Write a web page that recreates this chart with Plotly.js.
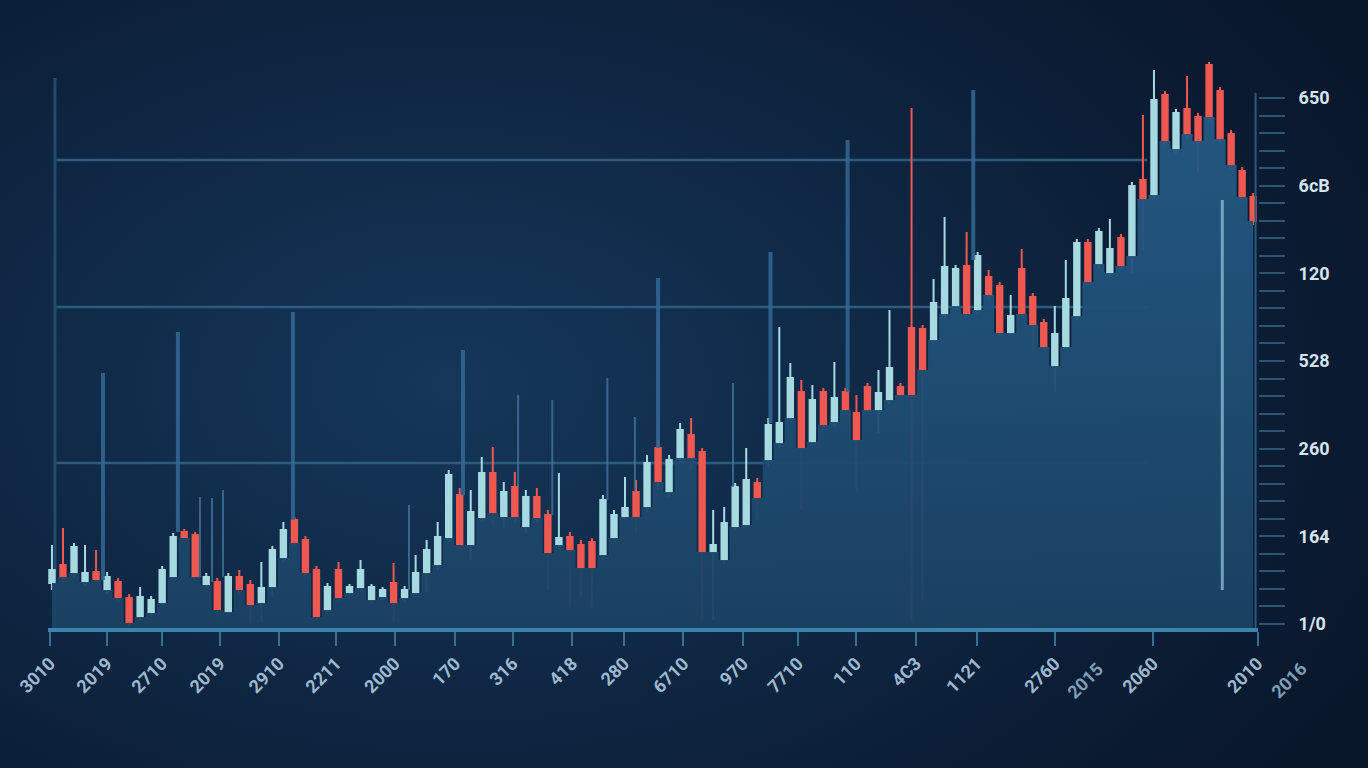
<!DOCTYPE html>
<html><head><meta charset="utf-8">
<script src="https://cdn.plot.ly/plotly-3.0.1.min.js"></script>
<style>
html,body{margin:0;padding:0;width:1368px;height:768px;overflow:hidden;
background: radial-gradient(ellipse 75% 85% at 33% 50%, #15375a 0%, #102a48 38%, #0c1f38 70%, #09172b 100%);}
#chart{width:1368px;height:768px;}
</style></head><body><div id="chart"></div>
<script>
// ---- data (y in chart units, x = candle number) ----
const candleX = [0,1,2,3,4,5,6,7,8,9,10,11,12,13,14,15,16,17,18,19,20,21,22,23,24,25,26,27,28,29,
 30,31,32,33,34,35,36,37,38,39,40,41,42,43,44,45,46,47,48,49,50,51,52,53,54,55,56,57,58,59,
 60,61,62,63,64,65,66,67,68,69,70,71,72,73,74,75,76,77,78,79,80,81,82,83,84,85,86,87,88,89,
 90,91,92,93,94,95,96,97,98,99,100,101,102,103,104,105,106,107,108,109];
const openV = [45,63,55,46,56,38,46,30,11,15, 25,51,96,93,43,46,16,51,43,25,
 41,70,108,88,58,18,58,35,40,28, 31,45,30,35,55,63,90,133,83,110,
 155,111,141,101,131,113,83,91,83,86, 73,90,111,136,121,180,136,170,193,176,
 76,68,101,103,145,168,185,210,236,186, 236,206,236,215,241,218,228,241,300,299,
 288,314,322,362,318,351,342,295,359,331, 305,262,281,312,385,364,355,390,372,448,
 433,533,479,519,511,563,537,494,457,431];
const highV = [83,100,85,83,78,56,50,34,41,32, 62,95,99,96,55,50,55,58,48,66,
 82,106,111,92,62,45,66,44,68,44, 41,65,42,73,88,106,158,140,138,171,
 181,146,156,138,140,118,155,96,88,90, 133,118,151,148,173,188,173,205,210,180,
 118,121,145,180,150,210,301,265,248,243, 240,266,240,233,245,258,318,245,520,303,
 349,411,363,396,376,358,346,333,379,335, 309,322,368,389,389,400,409,394,446,513,
 558,537,519,552,515,566,541,498,461,435];
const lowV = [38,46,50,42,43,34,26,2,8,11, 22,48,88,48,40,11,13,34,5,5,
 31,66,82,51,8,15,26,32,36,24, 28,6,26,31,36,58,86,78,68,106,
 102,100,106,95,106,38,79,21,31,21, 68,86,108,95,116,138,131,166,158,8,
 8,64,98,100,108,161,181,206,118,182, 198,202,214,138,214,195,224,230,6,28,
 284,310,318,310,314,329,291,292,310,277, 277,236,278,308,342,360,351,358,355,378,
 429,483,475,490,455,507,485,459,427,403];
const closeV = [58,51,81,55,48,51,30,5,31,28, 58,91,90,51,51,18,51,38,23,40,
 78,98,85,55,11,41,30,41,58,41, 38,25,38,55,78,91,153,83,116,155,
 115,136,111,131,110,75,90,78,60,60, 128,113,120,111,165,146,168,198,170,76,
 83,105,141,148,130,203,205,250,180,228, 203,230,218,188,218,235,260,233,233,258,
 325,361,359,314,372,333,295,312,314,303, 281,294,329,385,346,396,379,362,442,429,
 528,487,515,494,487,511,489,463,431,407];

// tall thin spike lines
const spikeThickX = [4.63, 11.43, 21.87, 37.3, 55.0, 65.2, 72.2, 83.6];
const spikeThickTop = [255, 296, 316, 278, 350, 376, 488, 538];
const spikeThickBottom = [48, 96, 108, 133, 180, 205, 236, 368];
const spikeThinX = [13.43, 14.52, 15.52, 32.4, 42.3, 45.4, 50.4, 52.9, 61.8];
const spikeThinTop = [131, 130, 138, 123, 233, 228, 250, 211, 245];
const spikeThinBottom = [51, 46, 51, 38, 141, 113, 128, 136, 141];
const spikeLightX = [106.2];
const spikeLightTop = [428];
const spikeLightBottom = [38];

// horizontal reference lines
const gridLevels = [468, 321, 165];

// axis ticks
const xTickPos = [-0.18, 4.99, 9.98, 15.25, 20.6, 25.77, 31.1, 36.6, 41.8, 47.2, 51.9, 57.3, 62.7, 67.7, 72.96, 78.4, 83.9, 91.0, 99.9, 109.4];
const xTickText = ["3010","2019","2710","2019","2910","2211","2000","170","316","418","280","6710","970","7710","110","4C3","1121","2760","2060","2010"];
const xExtraPos = [0.857, 1.025];   // label centres across the plot width (no tick mark)
const xExtraText = ["2015","2016"];
const yTickPos = [4, 91.7, 179.3, 267, 354.7, 442.3, 530];
const yTickText = ["1/0","164","260","528","120","6cB","650"];

// ---- build ----
const bodyLow = openV.map((o, i) => Math.min(o, closeV[i]));
function segs(xs, tops, bots) {
  const x = [], y = [];
  xs.forEach((v, i) => { x.push(v, v, null); y.push(bots[i], tops[i], null); });
  return {x, y};
}
const sThick = segs(spikeThickX, spikeThickTop, spikeThickBottom);
const sThin = segs(spikeThinX, spikeThinTop, spikeThinBottom);
const sLight = segs(spikeLightX, spikeLightTop, spikeLightBottom);

const minorVals = [];
for (let v = 4 + 17.534; v < 545; v += 17.534) minorVals.push(v);

const traces = [
  {type:'scatter', x:candleX, y:bodyLow, mode:'lines', line:{width:0, shape:'hvh'},
   fill:'tozeroy', fillcolor:'rgba(32,80,118,0.92)',
   fillgradient:{type:'vertical', colorscale:[[0,'rgba(27,66,100,0.95)'],[1,'rgba(36,90,132,0.95)']]},
   hoverinfo:'skip', showlegend:false},
  {type:'scatter', x:sThick.x, y:sThick.y, mode:'lines', line:{width:4, color:'rgba(52,105,148,0.85)'},
   hoverinfo:'skip', showlegend:false, connectgaps:false},
  {type:'scatter', x:sThin.x, y:sThin.y, mode:'lines', line:{width:2, color:'rgba(70,120,160,0.75)'},
   hoverinfo:'skip', showlegend:false, connectgaps:false},
  {type:'scatter', x:sLight.x, y:sLight.y, mode:'lines', line:{width:3, color:'rgba(140,195,212,0.75)'},
   hoverinfo:'skip', showlegend:false, connectgaps:false},
  {type:'candlestick', x:candleX, open:openV, high:highV, low:lowV, close:closeV,
   increasing:{line:{color:'#a6d9e0', width:2}, fillcolor:'#a6d9e0'},
   decreasing:{line:{color:'#ef5850', width:2}, fillcolor:'#ef5850'},
   whiskerwidth:0, hoverinfo:'skip', showlegend:false}
];

const shapes = [];
gridLevels.forEach(g => shapes.push({type:'line', xref:'x', yref:'y', x0:0.27, x1:99.4, y0:g, y1:g,
  line:{color:'#2c5b7e', width:2.5}, layer:'below'}));
shapes.push({type:'line', xref:'x', yref:'y', x0:0.27, x1:0.27, y0:0, y1:550,
  line:{color:'#234b6c', width:3}, layer:'below'});
shapes.push({type:'line', xref:'paper', yref:'y', x0:0.998, x1:0.998, y0:0, y1:535,
  line:{color:'#2c5a7c', width:2}, layer:'above'});

const annotations = xExtraText.map((t, i) => ({
  x: xExtraPos[i], y: 0, xref:'paper', yref:'y', text:t, showarrow:false, textangle:-45,
  xanchor:'center', yanchor:'middle',
  yshift:-52, font:{family:'Roboto', size:18, color:'#7f9fb8', weight:'bold'}
}));

const layout = {
  width:1368, height:768,
  margin:{l:48, r:110, t:40, b:140},
  paper_bgcolor:'rgba(0,0,0,0)', plot_bgcolor:'rgba(0,0,0,0)',
  showlegend:false,
  xaxis:{range:[-0.36, 109.44], tickmode:'array', tickvals:xTickPos, ticktext:xTickText,
    tickangle:-45, ticks:'outside', ticklen:14, tickwidth:2, tickcolor:'#3a6f95',
    showline:true, linecolor:'#3c84ad', linewidth:4, showgrid:false, zeroline:false,
    rangeslider:{visible:false}, fixedrange:true,
    tickfont:{family:'Roboto', size:18, color:'#9cb9cf', weight:'bold'}},
  yaxis:{range:[0, 588], side:'right', tickmode:'array', tickvals:yTickPos, ticktext:yTickText,
    ticks:'outside', ticklen:26, tickwidth:2, tickcolor:'#2a5575',
    showgrid:false, zeroline:false, showline:false, fixedrange:true, ticklabelstandoff:10,
    tickfont:{family:'Roboto', size:18, color:'#d3e4ef', weight:'bold'},
    minor:{tickmode:'array', tickvals:minorVals, ticks:'outside', ticklen:26, tickwidth:2, tickcolor:'#2a5575', showgrid:false}},
  shapes, annotations
};

Plotly.newPlot('chart', traces, layout, {staticPlot:true, displayModeBar:false});
</script></body></html>
